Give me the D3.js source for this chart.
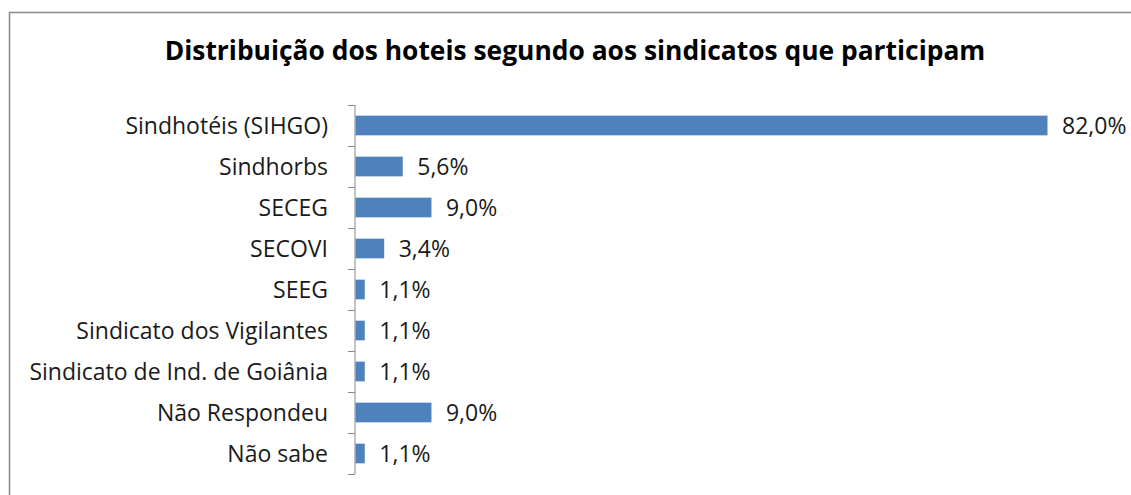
<!DOCTYPE html>
<html>
<head>
<meta charset="utf-8">
<script src="https://cdn.jsdelivr.net/npm/d3@7"></script>
<style>
  html, body { margin: 0; padding: 0; background: #fff; }
  svg text { font-family: "Open Sans", "Noto Sans", sans-serif; fill: #000; }
</style>
</head>
<body>
<div id="chart"></div>
<script>
const categories = [
  'Sindhotéis (SIHGO)', 'Sindhorbs', 'SECEG', 'SECOVI', 'SEEG',
  'Sindicato dos Vigilantes', 'Sindicato de Ind. de Goiânia', 'Não Respondeu', 'Não sabe'
];
const values = [82.0, 5.6, 9.0, 3.4, 1.1, 1.1, 1.1, 9.0, 1.1];
const valueLabels = ['82,0%', '5,6%', '9,0%', '3,4%', '1,1%', '1,1%', '1,1%', '9,0%', '1,1%'];
const title = 'Distribuição dos hoteis segundo aos sindicatos que participam';

const W = 1131, H = 495;
const margins = { top: 105, right: 84, bottom: 21, left: 355 };

const svg = d3.select('#chart')
  .append('svg')
  .attr('width', W)
  .attr('height', H);

// chart frame (runs off the right and bottom edges)
svg.append('rect')
  .attr('x', 9.5).attr('y', 12.5)
  .attr('width', W + 20).attr('height', H + 20)
  .attr('fill', 'none')
  .attr('stroke', '#888')
  .attr('stroke-width', 1.5);

svg.append('text')
  .attr('x', 575)
  .attr('y', 60)
  .attr('text-anchor', 'middle')
  .style('font-size', '26.4px')
  .style('font-weight', 'bold')
  .text(title);

const x = d3.scaleLinear()
  .domain([0, 82])
  .range([margins.left, W - margins.right]);

const y = d3.scaleBand()
  .domain(categories)
  .range([margins.top, H - margins.bottom])
  .paddingInner(0.52)
  .paddingOuter(0.26);

const band = d3.scaleBand()
  .domain(categories)
  .range([margins.top, H - margins.bottom]);

// axis line with ticks at band boundaries
const axis = svg.append('g');
axis.append('line')
  .attr('x1', x(0)).attr('x2', x(0))
  .attr('y1', margins.top).attr('y2', H - margins.bottom)
  .attr('stroke', '#888').attr('stroke-width', 1);
const bounds = categories.map(c => band(c)).concat([H - margins.bottom]);
axis.selectAll('.tk')
  .data(bounds)
  .enter()
  .append('line')
  .attr('x1', x(0) - 7).attr('x2', x(0))
  .attr('y1', d => Math.round(d) + 0.5).attr('y2', d => Math.round(d) + 0.5)
  .attr('stroke', '#888').attr('stroke-width', 1);

svg.selectAll('.cat')
  .data(categories)
  .enter()
  .append('text')
  .attr('x', x(0) - 27)
  .attr('y', d => band(d) + band.bandwidth() / 2)
  .attr('dy', '0.36em')
  .attr('text-anchor', 'end')
  .style('font-size', '23px')
  .style('fill', '#1a1a1a')
  .text(d => d);

svg.selectAll('.bar')
  .data(values)
  .enter()
  .append('rect')
  .attr('x', x(0) + 0.5)
  .attr('y', (d, i) => y(categories[i]))
  .attr('width', d => x(d) - x(0))
  .attr('height', y.bandwidth())
  .attr('fill', '#4F81BD');

svg.selectAll('.val')
  .data(values)
  .enter()
  .append('text')
  .attr('x', d => x(d) + 15)
  .attr('y', (d, i) => band(categories[i]) + band.bandwidth() / 2)
  .attr('dy', '0.36em')
  .style('font-size', '23px')
  .style('fill', '#1a1a1a')
  .text((d, i) => valueLabels[i]);
</script>
</body>
</html>
